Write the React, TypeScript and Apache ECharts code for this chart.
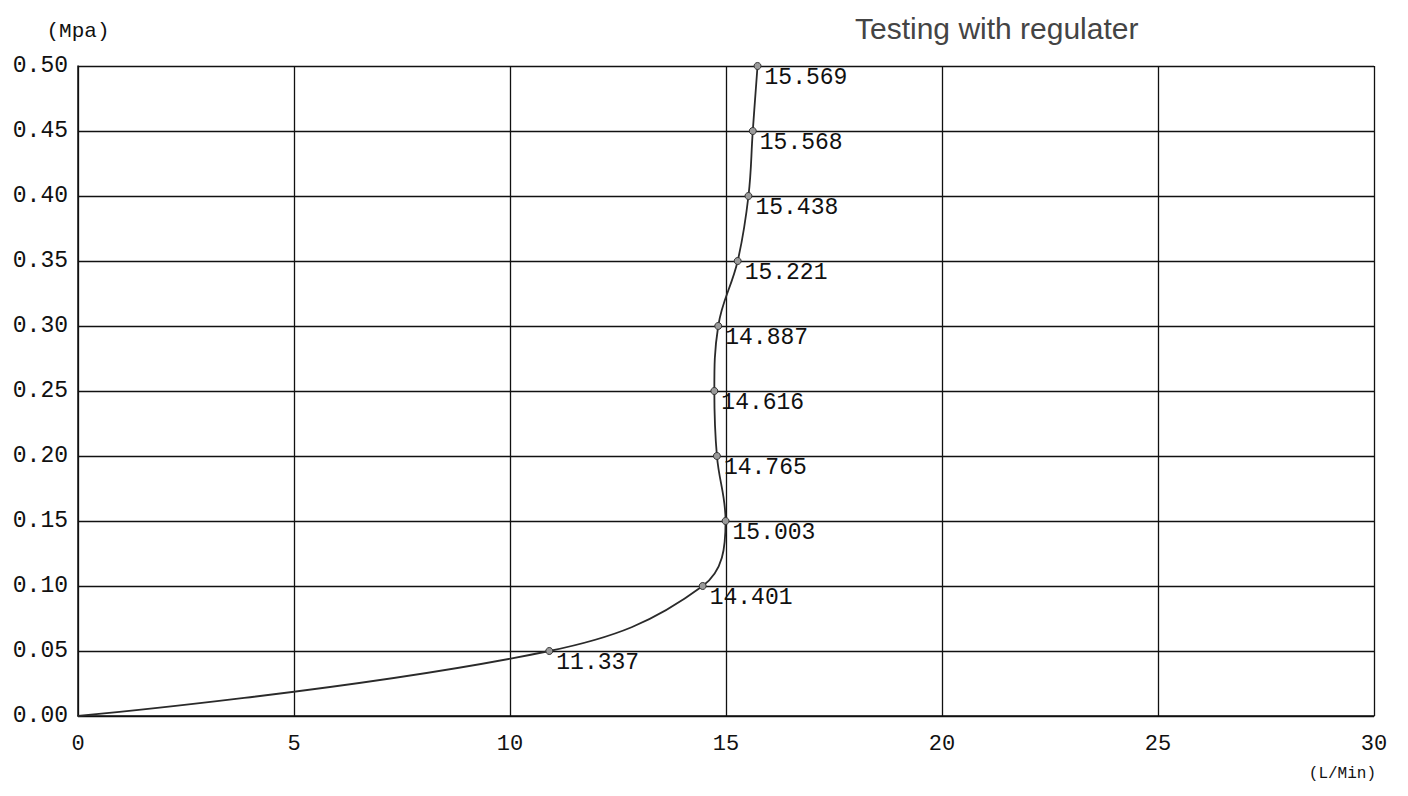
import React, { useEffect, useRef } from "react";
import * as echarts from "echarts";

// Pressure levels (Mpa)
const pressure = [0, 0.05, 0.1, 0.15, 0.2, 0.25, 0.3, 0.35, 0.4, 0.45, 0.5];
// Flow position of each point as plotted in the picture (L/Min)
const flowPlotted = [0, 10.91, 14.46, 14.99, 14.79, 14.73, 14.82, 15.27, 15.52, 15.62, 15.73];
// Flow readings printed beside each point
const flowReadings = ["", "11.337", "14.401", "15.003", "14.765", "14.616", "14.887", "15.221", "15.438", "15.568", "15.569"];

const titleText = "Testing with regulater";
const yUnit = "(Mpa)";
const xUnit = "(L/Min)";

const MONO = "'Liberation Mono', 'DejaVu Sans Mono', monospace";

export default function App() {
  const ref = useRef<HTMLDivElement>(null);

  useEffect(() => {
    if (!ref.current) return;
    const chart = echarts.init(ref.current, undefined, { renderer: "svg" });

    const data = pressure.map((p, i) => {
      const item: any = { value: [flowPlotted[i], p], reading: flowReadings[i] };
      if (!flowReadings[i]) {
        item.symbol = "none";
        item.label = { show: false };
      }
      return item;
    });

    chart.setOption({
      animation: false,
      backgroundColor: "#ffffff",
      title: {
        text: titleText,
        left: 850,
        top: 8,
        textStyle: {
          fontFamily: "'Liberation Sans', Arial, sans-serif",
          fontSize: 30,
          fontWeight: "normal",
          color: "#444",
        },
      },
      grid: { left: 78, right: 34, top: 66, bottom: 80, containLabel: false },
      xAxis: {
        type: "value",
        min: 0,
        max: 30,
        interval: 5,
        axisLine: { show: true, lineStyle: { color: "#111", width: 1.5 } },
        axisTick: { show: false },
        splitLine: { show: true, lineStyle: { color: "#111", width: 1.3 } },
        axisLabel: {
          margin: 17,
          fontFamily: MONO,
          fontSize: 22,
          color: "#111",
        },
      },
      yAxis: {
        type: "value",
        min: 0,
        max: 0.5,
        interval: 0.05,
        name: yUnit,
        nameLocation: "end",
        nameGap: 24,
        nameTextStyle: {
          fontFamily: MONO,
          fontSize: 21,
          color: "#111",
          align: "center",
        },
        axisLine: { show: true, lineStyle: { color: "#111", width: 1.5 } },
        axisTick: { show: false },
        splitLine: { show: true, lineStyle: { color: "#111", width: 1.3 } },
        axisLabel: {
          margin: 10,
          fontFamily: MONO,
          fontSize: 23,
          color: "#111",
          formatter: (v: number) => v.toFixed(2),
        },
      },
      graphic: [
        {
          type: "text",
          right: 32,
          top: 766,
          style: {
            text: xUnit,
            fontFamily: MONO,
            fontSize: 16,
            fill: "#111",
          },
        },
      ],
      series: [
        {
          type: "line",
          data,
          smooth: 0.4,
          symbol: "circle",
          symbolSize: 7,
          showSymbol: true,
          lineStyle: { color: "#2a2a2a", width: 1.8 },
          itemStyle: { color: "#9a9a9a", borderColor: "#333", borderWidth: 1 },
          label: {
            show: true,
            position: "right",
            distance: 3,
            offset: [0, 12],
            fontFamily: MONO,
            fontSize: 23,
            color: "#111",
            formatter: (p: any) => p.data.reading,
          },
        },
      ],
    });

    return () => chart.dispose();
  }, []);

  return (
    <div
      ref={ref}
      style={{ position: "fixed", left: 0, top: 0, width: 1408, height: 796 }}
    />
  );
}
